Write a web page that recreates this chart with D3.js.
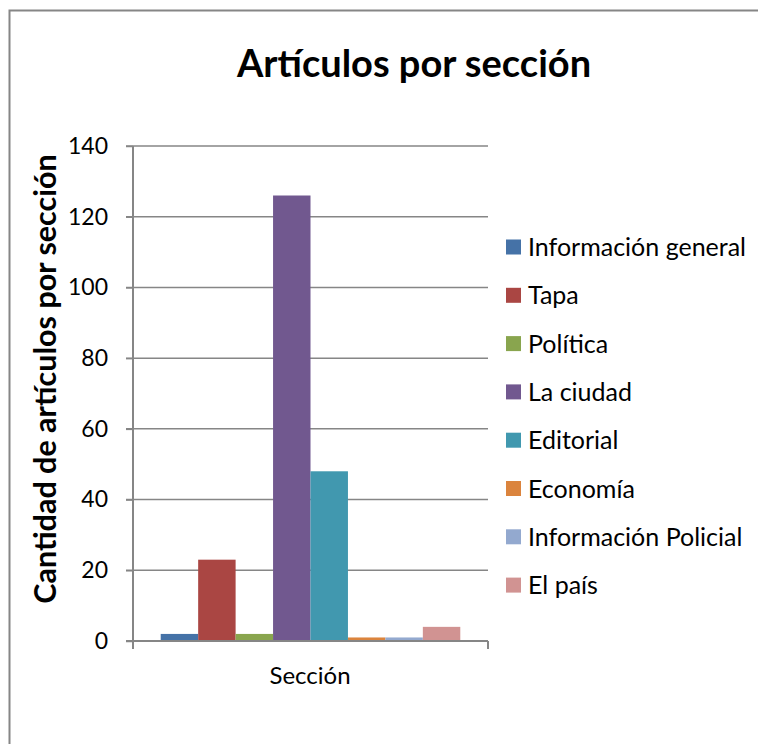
<!DOCTYPE html>
<html>
<head>
<meta charset="utf-8">
<script src="https://cdn.jsdelivr.net/npm/d3@7"></script>
<style>
  html, body { margin: 0; padding: 0; background: #fff; }
  svg { display: block; font-family: Lato, "Open Sans", sans-serif; }
</style>
</head>
<body>
<svg id="chart" width="758" height="744"></svg>
<script>
const categories = ["Información general", "Tapa", "Política", "La ciudad", "Editorial", "Economía", "Información Policial", "El país"];
const values = [2, 23, 2, 126, 48, 1, 1, 4];
const colors = ["#4572A7", "#AA4643", "#89A54E", "#71588F", "#4198AF", "#DB843D", "#93A9CF", "#D19392"];
const yTicks = [0, 20, 40, 60, 80, 100, 120, 140];
const chartTitle = "Artículos por sección";
const yTitle = "Cantidad de artículos por sección";
const xTitle = "Sección";

(function () {
const svg = d3.select("#chart");
const grey = "#868686";

// outer frame
svg.append("path")
  .attr("d", "M9.5,760 V10.5 H770")
  .attr("fill", "none").attr("stroke", grey).attr("stroke-width", 2);

const pLeft = 133, pRight = 488, pTop = 146, pBottom = 641;

const y = d3.scaleLinear().domain([0, 140]).range([pBottom, pTop]);
const x = d3.scaleBand().domain(categories).range([pLeft, pRight]).paddingOuter(0.74).paddingInner(0);

// gridlines
svg.append("g").selectAll("line").data(yTicks.filter(d => d > 0)).join("line")
  .attr("x1", pLeft - 7).attr("x2", pRight)
  .attr("y1", d => y(d)).attr("y2", d => y(d))
  .attr("stroke", grey).attr("stroke-width", 1.5);

// bars
svg.append("g").selectAll("rect").data(categories).join("rect")
  .attr("x", d => x(d))
  .attr("width", x.bandwidth())
  .attr("y", (d, i) => y(values[i]))
  .attr("height", (d, i) => y(0) - y(values[i]))
  .attr("fill", (d, i) => colors[i]);

// y axis
const yAxis = d3.axisLeft(y).tickValues(yTicks).tickSize(7).tickPadding(18);
const gy = svg.append("g").attr("transform", `translate(${pLeft},0)`).call(yAxis);
gy.select(".domain").attr("stroke", grey).attr("stroke-width", 2).attr("d", `M0,${pTop}V${pBottom}`);
gy.selectAll(".tick line").attr("stroke", grey).attr("stroke-width", 1.5);
gy.selectAll(".tick text").attr("fill", "#000").style("font-size", "23px").style("font-family", "Lato, sans-serif");

// x axis
const gx = svg.append("g");
gx.append("line").attr("x1", pLeft - 7).attr("x2", pRight).attr("y1", pBottom).attr("y2", pBottom)
  .attr("stroke", grey).attr("stroke-width", 2);
gx.selectAll("line.t").data([pLeft, pRight]).join("line").attr("class", "t")
  .attr("x1", d => d).attr("x2", d => d).attr("y1", pBottom).attr("y2", pBottom + 8)
  .attr("stroke", grey).attr("stroke-width", 2);

// titles
svg.append("text").attr("x", 414).attr("y", 77).attr("text-anchor", "middle")
  .style("font-size", "38px").style("font-weight", "bold").text(chartTitle);

svg.append("text").attr("transform", `translate(56,379) rotate(-90)`).attr("text-anchor", "middle")
  .style("font-size", "30.5px").style("font-weight", "bold").text(yTitle);

svg.append("text").attr("x", 310).attr("y", 684).attr("text-anchor", "middle")
  .style("font-size", "24px").text(xTitle);

// legend
const leg = svg.append("g").selectAll("g").data(categories).join("g")
  .attr("transform", (d, i) => `translate(506,${247 + i * 48.3})`);
leg.append("rect").attr("x", 0).attr("y", -7.5).attr("width", 15).attr("height", 15)
  .attr("fill", (d, i) => colors[i]);
leg.append("text").attr("x", 22).attr("y", 9).style("font-size", "25px").text(d => d);
})();
</script>
</body>
</html>
